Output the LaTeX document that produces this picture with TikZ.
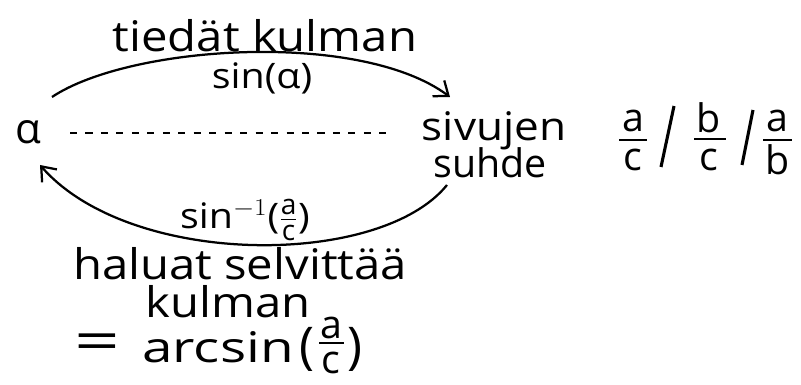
\documentclass[tikz,border=0pt]{standalone}
\usepackage{fontspec}
\setmainfont{Open Sans}
\usetikzlibrary{arrows.meta}
\newcommand{\hw}[1]{\scalebox{1.12}[1]{#1}}
\newcommand{\fr}[3]{$\frac{\mbox{\fontsize{#1}{#1}\selectfont #2}}{\mbox{\fontsize{#1}{#1}\selectfont #3}}$}
\tikzset{
  hand/.style={font=\fontsize{30}{34}\selectfont, inner sep=1pt},
  mid/.style={font=\fontsize{28}{30}\selectfont, inner sep=1pt},
  small/.style={font=\fontsize{25}{29}\selectfont, inner sep=1pt},
  letter/.style={font=\fontsize{28}{30}\selectfont, inner sep=0pt},
  paren/.style={font=\fontsize{36}{36}\selectfont, inner sep=0pt},
  bar/.style={line width=1.6pt},
  slash/.style={line width=2.2pt},
  curve/.style={line width=1.6pt, -{Straight Barb[length=9pt,width=14pt,line width=1.6pt]}},
  dots/.style={line width=1pt, dash pattern=on 5pt off 6pt}
}
\begin{document}
\begin{tikzpicture}[x=0.025cm,y=-0.025cm]
\useasboundingbox (0,0) rectangle (801,385);
\node[hand] (top) at (265,36) {\hw{tiedät kulman}};
\node[small] (sin) at (262,78) {\hw{sin(α)}};
\node[hand] (alpha) at (28,132) {α};
\node[mid, anchor=base] (siv1) at (494,141) {\hw{sivujen}};
\node[mid, anchor=base] (siv2) at (490,178) {suhde};
% fractions on the right
\node[letter] (n1) at (633,121) {a};
\node[letter] (d1c) at (633,160) {c};
\draw[bar] (619,140) -- (647,140);
\draw[slash] (674,106) -- (661,167);
\node[letter] (n2) at (709,118) {b};
\node[letter] (d2c) at (709,160) {c};
\draw[bar] (694,139) -- (726,139);
\draw[slash] (753,110) -- (742,165);
\node[letter] (n3) at (777,121) {a};
\node[letter] (d3b) at (778,160) {b};
\draw[bar] (763,140) -- (792,140);
% connectors
\coordinate (t1) at (52,97);
\coordinate (t2) at (450,97);
\coordinate (b1) at (447,185);
\coordinate (b2) at (40,165);
\coordinate (e1) at (70,133);
\coordinate (e2) at (392,133);
\draw[curve] (t1) .. controls (130,45) and (360,30) .. (t2);
\draw[curve] (b1) .. controls (380,268) and (130,268) .. (b2);
\draw[dots] (e1) -- (e2);
\node[small] (inv) at (245,220) {\hw{sin$^{-1}$(}\fr{20}{a}{c}\hw{)}};
\node[hand] (hal) at (240,264) {\hw{haluat selvittää}};
\node[hand] (kul) at (228,302) {\hw{kulman}};
% = arcsin (a/c)
\node[hand] (eq) at (97,347) {\scalebox{1.9}[1.3]{=}};
\node[hand] (arc) at (218,347) {\scalebox{1.3}[1]{arcsin}};
\node[paren] (lp) at (307,349) {(};
\node[letter] (an) at (331,328) {a};
\draw[bar] (319,343) -- (344,343);
\node[letter] (ad) at (331,363) {c};
\node[paren] (rp) at (355,349) {)};
\end{tikzpicture}
\end{document}
